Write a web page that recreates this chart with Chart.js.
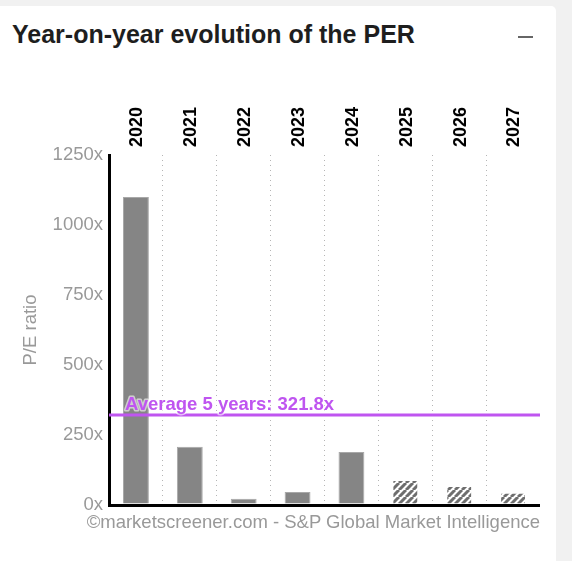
<!DOCTYPE html>
<html>
<head>
<meta charset="utf-8">
<script src="https://cdn.jsdelivr.net/npm/chart.js@4.4.1/dist/chart.umd.min.js"></script>
<style>
  html, body { margin: 0; padding: 0; background: #f1f1f1; width: 572px; height: 561px; overflow: hidden; }
  #card { position: absolute; left: -10px; top: 6px; width: 566px; height: 600px; background: #fff; border-radius: 5px; }
  #title { position: absolute; left: 12px; top: 20px; font: bold 25px "Liberation Sans", Arial, sans-serif; color: #1e1e1e; white-space: nowrap; }
  #minus { position: absolute; left: 518px; top: 36px; width: 15px; height: 2px; background: #666; }
  #footer { position: absolute; right: 32px; top: 511px; font: 18.5px "Liberation Sans", Arial, sans-serif; color: #999; white-space: nowrap; }
  #wrap { position: absolute; left: 0; top: 0; width: 572px; height: 561px; }
</style>
</head>
<body>
<div id="card"></div>
<div id="title">Year-on-year evolution of the PER</div>
<div id="minus"></div>
<div id="wrap"><canvas id="c" width="572" height="561"></canvas></div>
<div id="footer">©marketscreener.com - S&amp;P Global Market Intelligence</div>
<script>
const years = ['2020', '2021', '2022', '2023', '2024', '2025', '2026', '2027'];
const perValues = [1100, 208, 22, 46, 189, 89, 68, 44];
const isForecast = [false, false, false, false, false, true, true, true];
const averageValue = 321.8;
const averageLabel = 'Average 5 years: 321.8x';
const yTicks = [0, 250, 500, 750, 1000, 1250];
const yAxisTitle = 'P/E ratio';

function makeHatch() {
  const s = 7;
  const c = document.createElement('canvas');
  c.width = s; c.height = s;
  const g = c.getContext('2d');
  g.fillStyle = '#ffffff';
  g.fillRect(0, 0, s, s);
  g.strokeStyle = '#6e6e6e';
  g.lineWidth = 3;
  g.beginPath();
  for (let k = -1; k <= 1; k++) {
    g.moveTo(k * s, s);
    g.lineTo(k * s + s, 0);
  }
  g.stroke();
  return g.createPattern(c, 'repeat');
}

const ctx = document.getElementById('c').getContext('2d');
const hatch = makeHatch();

const avgPlugin = {
  id: 'avgLine',
  afterDatasetsDraw(chart) {
    const { ctx, chartArea } = chart;
    const y = chart.scales.y.getPixelForValue(averageValue);
    ctx.save();
    ctx.strokeStyle = '#bf55f0';
    ctx.lineWidth = 3;
    ctx.beginPath();
    ctx.moveTo(chartArea.left, y);
    ctx.lineTo(chartArea.right, y);
    ctx.stroke();
    ctx.font = 'bold 18.5px "Liberation Sans", Arial, sans-serif';
    ctx.textBaseline = 'alphabetic';
    ctx.textAlign = 'left';
    ctx.lineWidth = 3;
    ctx.strokeStyle = 'rgba(255,255,255,0.6)';
    ctx.lineJoin = 'round';
    ctx.strokeText(averageLabel, chartArea.left + 16, y - 5);
    ctx.fillStyle = '#bf55f0';
    ctx.fillText(averageLabel, chartArea.left + 16, y - 5);
    ctx.restore();
  }
};

new Chart(ctx, {
  type: 'bar',
  data: {
    labels: years,
    datasets: [{
      data: perValues,
      backgroundColor: isForecast.map(f => f ? hatch : '#858585'),
      borderColor: isForecast.map(f => f ? 'rgba(0,0,0,0)' : '#a8a8a8'),
      borderWidth: 1,
      barPercentage: 0.48,
      categoryPercentage: 1.0
    }]
  },
  options: {
    responsive: false,
    animation: false,
    devicePixelRatio: 1,
    layout: { padding: { left: 0, right: 32, top: 0, bottom: 56 } },
    plugins: { legend: { display: false }, tooltip: { enabled: false } },
    scales: {
      x: {
        position: 'top',
        grid: {
          offset: true,
          drawTicks: false,
          lineWidth: 1,
          color: c => (c.index === undefined || c.index === 0) ? 'rgba(0,0,0,0)' : '#b5b5b5'
        },
        border: { display: false, dash: [1, 4] },
        ticks: {
          minRotation: 90,
          maxRotation: 90,
          padding: 8,
          labelOffset: 23,
          color: '#000',
          font: { family: '"Liberation Sans", Arial, sans-serif', size: 18, weight: 'bold' }
        },
        afterFit: s => { s.height = 155; }
      },
      y: {
        min: 0,
        max: 1250,
        afterBuildTicks: s => { s.ticks = yTicks.map(v => ({ value: v })); },
        border: { display: true, color: '#000', width: 3 },
        grid: {
          drawTicks: false,
          lineWidth: 3,
          color: c => (c.tick && c.tick.value === 0) ? '#000' : 'rgba(0,0,0,0)'
        },
        ticks: {
          padding: 6,
          color: '#999',
          font: { family: '"Liberation Sans", Arial, sans-serif', size: 18.5 },
          callback: v => v + 'x'
        },
        title: {
          display: true,
          text: yAxisTitle,
          color: '#999',
          padding: { top: 20, bottom: 0 },
          font: { family: '"Liberation Sans", Arial, sans-serif', size: 18.5 }
        },
        afterFit: s => { s.width = 109; }
      }
    }
  },
  plugins: [avgPlugin]
});
</script>
</body>
</html>
